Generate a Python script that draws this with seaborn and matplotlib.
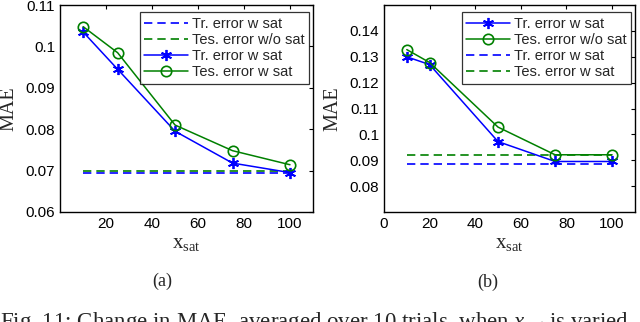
import matplotlib
matplotlib.use('Agg')
import matplotlib.pyplot as plt
import seaborn as sns
import pandas as pd

# panel (a)
xa = [10, 25, 50, 75, 100]
tr_a = [0.1035, 0.0945, 0.0795, 0.0718, 0.0695]
tes_a = [0.1048, 0.0985, 0.0810, 0.0748, 0.0714]
tr_base_a = 0.0693
tes_base_a = 0.0700

# panel (b)
xb = [10, 20, 50, 75, 100]
tr_b = [0.1300, 0.1270, 0.0972, 0.0895, 0.0895]
tes_b = [0.1328, 0.1278, 0.1028, 0.0921, 0.0921]
tr_base_b = 0.0885
tes_base_b = 0.0921

base_x = [10, 100]

sns.set_style('white')
plt.rcParams.update({
    'font.family': ['Liberation Sans', 'DejaVu Sans'],
    'mathtext.fontset': 'custom',
    'mathtext.rm': 'Liberation Serif',
    'mathtext.it': 'Liberation Serif:italic',
    'xtick.direction': 'in',
    'ytick.direction': 'in',
})

BLUE = '#0000ff'
GREEN = '#008000'
SERIF = 'Liberation Serif'
ASTERISK = (6, 2, 0)

fig = plt.figure(figsize=(6.4, 3.22), dpi=100)
ax_a = fig.add_axes([0.094, 0.342, 0.395, 0.642])
ax_b = fig.add_axes([0.600, 0.342, 0.392, 0.642])


def draw(ax, x, tr, tes, tr_base, tes_base):
    df = pd.DataFrame({'x': x, 'tr': tr, 'tes': tes})
    base = pd.DataFrame({'x': base_x, 'tr': [tr_base] * 2, 'tes': [tes_base] * 2})
    h = {}
    sns.lineplot(data=base, x='x', y='tr', ax=ax, color=BLUE, lw=1.2)
    h['tr_d'] = ax.lines[-1]
    h['tr_d'].set_dashes([5, 3])
    sns.lineplot(data=base, x='x', y='tes', ax=ax, color=GREEN, lw=1.2)
    h['tes_d'] = ax.lines[-1]
    h['tes_d'].set_dashes([5, 3])
    sns.lineplot(data=df, x='x', y='tr', ax=ax, color=BLUE, lw=1.1,
                 marker=ASTERISK, markersize=8, markeredgecolor=BLUE,
                 markeredgewidth=1.3)
    h['tr'] = ax.lines[-1]
    sns.lineplot(data=df, x='x', y='tes', ax=ax, color=GREEN, lw=1.1,
                 marker='o', markersize=7.5, markerfacecolor='none',
                 markeredgecolor=GREEN, markeredgewidth=1.2)
    h['tes'] = ax.lines[-1]

    ax.set_xlim(0, 110)
    for s in ax.spines.values():
        s.set_color('black')
        s.set_linewidth(1.0)
    ax.tick_params(which='both', top=True, right=True, length=3,
                   labelsize=11, colors='black', width=0.8)
    ax.set_xlabel(r'$\mathrm{x}_{\mathrm{sat}}$', fontsize=15, labelpad=2)
    ax.set_ylabel('MAE', fontsize=14.5, family=SERIF, labelpad=5)
    return h


def legend(ax, handles):
    leg = ax.legend(handles,
                    ['Tr. error w sat', 'Tes. error w/o sat',
                     'Tr. error w sat', 'Tes. error w sat'],
                    loc='upper right', bbox_to_anchor=(0.985, 0.965),
                    fontsize=10.5, frameon=True, fancybox=False,
                    handlelength=3.0, handletextpad=0.3, borderpad=0.3,
                    labelspacing=0.15, borderaxespad=0)
    leg.get_frame().set_edgecolor('black')
    leg.get_frame().set_linewidth(0.9)


ha = draw(ax_a, xa, tr_a, tes_a, tr_base_a, tes_base_a)
ax_a.set_ylim(0.06, 0.11)
ax_a.set_yticks([0.06, 0.07, 0.08, 0.09, 0.1, 0.11])
ax_a.set_yticklabels(['0.06', '0.07', '0.08', '0.09', '0.1', '0.11'])
ax_a.set_xticks([20, 40, 60, 80, 100])
legend(ax_a, [ha['tr_d'], ha['tes_d'], ha['tr'], ha['tes']])

hb = draw(ax_b, xb, tr_b, tes_b, tr_base_b, tes_base_b)
ax_b.set_ylim(0.07, 0.15)
ax_b.set_yticks([0.08, 0.09, 0.1, 0.11, 0.12, 0.13, 0.14])
ax_b.set_yticklabels(['0.08', '0.09', '0.1', '0.11', '0.12', '0.13', '0.14'])
ax_b.set_xticks([0, 20, 40, 60, 80, 100])
legend(ax_b, [hb['tr'], hb['tes'], hb['tr_d'], hb['tes_d']])

fig.text(162 / 640, 1 - 281 / 322, '(a)', ha='center', va='center',
         family=SERIF, fontsize=13)
fig.text(488 / 640, 1 - 282 / 322, '(b)', ha='center', va='center',
         family=SERIF, fontsize=13)
fig.text(0.0, 1 - 310 / 322,
         r'Fig. 11: Change in MAE, averaged over 10 trials, when $x_{sat}$ is varied',
         ha='left', va='top', family=SERIF, fontsize=16.5)

fig.savefig('out.png', dpi=100)
